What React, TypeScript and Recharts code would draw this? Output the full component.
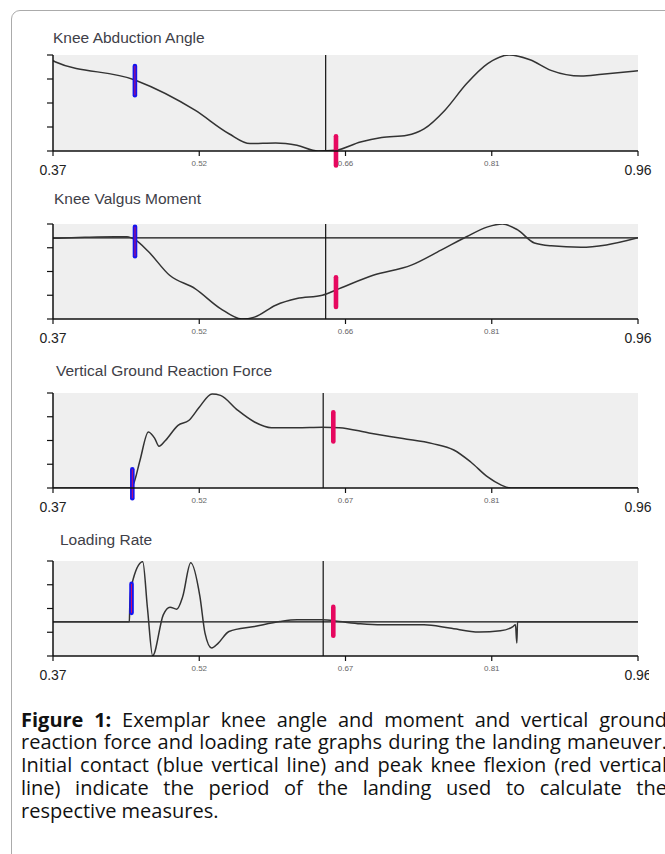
import React from "react";
import { LineChart, Line, XAxis, YAxis, CartesianGrid, ReferenceLine } from "recharts";

// x axis: time (s), ticks sit at quarter positions of the window
const xTicks = [0.37, 0.5175, 0.665, 0.8125, 0.96];
const yTicks = [0, 0.25, 0.5, 0.75, 1];

const angleTickLabels = ["0.37", "0.52", "0.66", "0.81", "0.96"];
const momentTickLabels = ["0.37", "0.52", "0.66", "0.81", "0.96"];
const forceTickLabels = ["0.37", "0.52", "0.67", "0.81", "0.96"];
const rateTickLabels = ["0.37", "0.52", "0.67", "0.81", "0.96"];

// normalised values (0 = bottom of panel, 1 = top)
const angleTime = [0.37, 0.372, 0.4526, 0.5132, 0.5475, 0.5687, 0.5946, 0.616, 0.6373, 0.6544, 0.6801, 0.7015, 0.727, 0.7442, 0.7653, 0.787, 0.8084, 0.8299, 0.8511, 0.8722, 0.9025, 0.9237, 0.96];
const angleValue = [0.94, 0.93, 0.74, 0.425, 0.18, 0.077, 0.084, 0.06, 0.0, 0.007, 0.094, 0.14, 0.164, 0.23, 0.425, 0.7, 0.91, 1.0, 0.95, 0.84, 0.78, 0.8, 0.836];

const momentTime = [0.37, 0.4021, 0.432, 0.4446, 0.4534, 0.4662, 0.4876, 0.5132, 0.5389, 0.5603, 0.5732, 0.5946, 0.616, 0.6416, 0.6587, 0.6929, 0.7314, 0.7613, 0.787, 0.8084, 0.8233, 0.8383, 0.8555, 0.8725, 0.9025, 0.9281, 0.96];
const momentValue = [0.849, 0.86, 0.866, 0.866, 0.83, 0.71, 0.46, 0.32, 0.11, 0.0, 0.02, 0.145, 0.215, 0.25, 0.32, 0.46, 0.567, 0.725, 0.866, 0.97, 1.0, 0.94, 0.8, 0.77, 0.755, 0.78, 0.855];

const forceTime = [0.37, 0.447, 0.4513, 0.4577, 0.4662, 0.4727, 0.4769, 0.4834, 0.4961, 0.5069, 0.5175, 0.5304, 0.5389, 0.5561, 0.5732, 0.5903, 0.616, 0.6416, 0.6587, 0.6887, 0.7229, 0.7528, 0.7742, 0.7913, 0.8084, 0.8212, 0.8319, 0.96];
const forceValue = [0, 0, 0.046, 0.29, 0.59, 0.52, 0.44, 0.5, 0.66, 0.71, 0.85, 0.99, 0.975, 0.82, 0.695, 0.635, 0.635, 0.64, 0.635, 0.58, 0.52, 0.467, 0.4, 0.274, 0.116, 0.035, 0, 0];

const rateTime = [0.37, 0.447, 0.4475, 0.4494, 0.4605, 0.4653, 0.4705, 0.4812, 0.488, 0.4948, 0.5008, 0.5089, 0.5182, 0.5233, 0.53, 0.5367, 0.5475, 0.5732, 0.5989, 0.6161, 0.6416, 0.6587, 0.6801, 0.7015, 0.7442, 0.7699, 0.7998, 0.8212, 0.8339, 0.8364, 0.8378, 0.8385, 0.96];
const rateValue = [0.36, 0.36, 0.55, 0.75, 0.993, 0.5, 0.003, 0.433, 0.514, 0.493, 0.625, 0.982, 0.625, 0.241, 0.084, 0.136, 0.258, 0.31, 0.363, 0.381, 0.381, 0.363, 0.339, 0.328, 0.328, 0.294, 0.252, 0.265, 0.31, 0.33, 0.136, 0.36, 0.36];

// [time, top, bottom] of the event marks; divider = black vertical line
const angleContact = [0.4526, 0.885, 0.58];
const angleFlexion = [0.6554, 0.154, -0.15];
const momentContact = [0.4527, 0.97, 0.66];
const momentFlexion = [0.6554, 0.44, 0.127];
const forceContact = [0.45, 0.197, -0.108];
const forceFlexion = [0.6527, 0.797, 0.49];
const rateContact = [0.4492, 0.759, 0.454];
const rateFlexion = [0.6527, 0.517, 0.213];

const LABEL_FONT = "'Liberation Sans', Arial, sans-serif";

interface PanelProps {
  title: string;
  titleLeft: number;
  titleTop: number;
  plotTop: number;
  plotHeight: number;
  time: number[];
  values: number[];
  tickLabels: string[];
  divider: number;
  baseline?: number;
  contact: number[];
  flexion: number[];
  clipWidth?: number;
}

function Panel({ title, titleLeft, titleTop, plotTop, plotHeight, time, values, tickLabels, divider, baseline, contact, flexion, clipWidth }: PanelProps) {
  const data = time.map((t, i) => ({ t, v: values[i] }));

  const renderTick = (props: any) => {
    const { x, y, payload } = props;
    const idx = xTicks.indexOf(payload.value);
    const edge = idx === 0 || idx === xTicks.length - 1;
    return (
      <text
        x={x}
        y={y + (edge ? 12.3 : 5)}
        textAnchor="middle"
        dominantBaseline="central"
        fontSize={edge ? 14 : 8}
        fill={edge ? "#222" : "#666"}
        fontFamily={LABEL_FONT}
      >
        {tickLabels[idx]}
      </text>
    );
  };

  return (
    <>
      <div
        style={{
          position: "absolute",
          left: titleLeft,
          top: titleTop,
          fontFamily: LABEL_FONT,
          fontSize: 15.5,
          lineHeight: "18px",
          color: "#404048",
          whiteSpace: "nowrap",
        }}
      >
        {title}
      </div>
      <div
        style={{
          position: "absolute",
          left: 0,
          top: plotTop - 10,
          width: clipWidth ?? 665,
          height: plotHeight + 40,
          overflow: "hidden",
        }}
      >
        <LineChart width={665} height={plotHeight + 40} data={data} margin={{ top: 10, right: 27, bottom: 0, left: 0 }}>
          <CartesianGrid fill="#efefef" horizontal={false} vertical={false} />
          <XAxis
            type="number"
            dataKey="t"
            domain={[0.37, 0.96]}
            ticks={xTicks}
            interval={0}
            allowDataOverflow
            height={30}
            tickSize={5}
            tickMargin={2}
            tick={renderTick}
            axisLine={{ stroke: "#111", strokeWidth: 1.5 }}
            tickLine={{ stroke: "#111", strokeWidth: 1.2 }}
          />
          <YAxis
            type="number"
            domain={[0, 1]}
            ticks={yTicks}
            allowDataOverflow
            width={53}
            tickSize={6}
            tickFormatter={() => ""}
            axisLine={{ stroke: "#111", strokeWidth: 1.5 }}
            tickLine={{ stroke: "#111", strokeWidth: 1.2 }}
          />
          {baseline !== undefined && <ReferenceLine y={baseline} stroke="#111" strokeWidth={1.3} />}
          <ReferenceLine x={divider} stroke="#111" strokeWidth={1.2} />
          <Line type="monotone" dataKey="v" stroke="#333" strokeWidth={1.5} dot={false} isAnimationActive={false} />
          <ReferenceLine
            segment={[{ x: contact[0], y: contact[1] }, { x: contact[0], y: contact[2] }]}
            stroke="#1414f0"
            strokeWidth={4.6}
            strokeLinecap="round"
            ifOverflow="visible"
          />
          <ReferenceLine
            segment={[{ x: contact[0], y: contact[1] }, { x: contact[0], y: contact[2] }]}
            stroke="#c8106a"
            strokeWidth={1}
            ifOverflow="visible"
          />
          <ReferenceLine
            segment={[{ x: flexion[0], y: flexion[1] }, { x: flexion[0], y: flexion[2] }]}
            stroke="#e6085f"
            strokeWidth={4.6}
            strokeLinecap="round"
            ifOverflow="visible"
          />
        </LineChart>
      </div>
    </>
  );
}

const captionLine: React.CSSProperties = {
  height: 22.9,
  textAlign: "justify",
  textAlignLast: "justify",
  whiteSpace: "nowrap",
};

export default function App() {
  return (
    <div
      style={{
        position: "absolute",
        left: 0,
        top: 0,
        width: 665,
        height: 854,
        overflow: "hidden",
        background: "#fff",
      }}
    >
      <div
        style={{
          position: "absolute",
          left: 11,
          top: 10,
          width: 720,
          height: 900,
          border: "1.5px solid #ababab",
          borderRadius: 9,
          boxSizing: "border-box",
        }}
      />
      <Panel
        title="Knee Abduction Angle"
        titleLeft={53}
        titleTop={29}
        plotTop={55}
        plotHeight={96}
        time={angleTime}
        values={angleValue}
        tickLabels={angleTickLabels}
        divider={0.645}
        contact={angleContact}
        flexion={angleFlexion}
      />
      <Panel
        title="Knee Valgus Moment"
        titleLeft={54}
        titleTop={189.5}
        plotTop={224}
        plotHeight={95}
        time={momentTime}
        values={momentValue}
        tickLabels={momentTickLabels}
        divider={0.645}
        baseline={0.855}
        contact={momentContact}
        flexion={momentFlexion}
      />
      <Panel
        title="Vertical Ground Reaction Force"
        titleLeft={56}
        titleTop={362}
        plotTop={393}
        plotHeight={95}
        time={forceTime}
        values={forceValue}
        tickLabels={forceTickLabels}
        divider={0.6425}
        contact={forceContact}
        flexion={forceFlexion}
      />
      <Panel
        title="Loading Rate"
        titleLeft={60}
        titleTop={531.3}
        plotTop={561}
        plotHeight={95}
        time={rateTime}
        values={rateValue}
        tickLabels={rateTickLabels}
        divider={0.6425}
        baseline={0.36}
        contact={rateContact}
        flexion={rateFlexion}
        clipWidth={649}
      />
      <div
        style={{
          position: "absolute",
          left: 21,
          top: 708.5,
          width: 646,
          fontFamily: "'Open Sans', Lato, sans-serif",
          fontSize: 20,
          lineHeight: "22.9px",
          color: "#111",
        }}
      >
        <div style={captionLine}>
          <b>Figure 1:</b> Exemplar knee angle and moment and vertical ground
        </div>
        <div style={captionLine}>reaction force and loading rate graphs during the landing maneuver.</div>
        <div style={captionLine}>Initial contact (blue vertical line) and peak knee flexion (red vertical</div>
        <div style={captionLine}>line) indicate the period of the landing used to calculate the</div>
        <div style={{ height: 22.9, whiteSpace: "nowrap" }}>respective measures.</div>
      </div>
    </div>
  );
}
